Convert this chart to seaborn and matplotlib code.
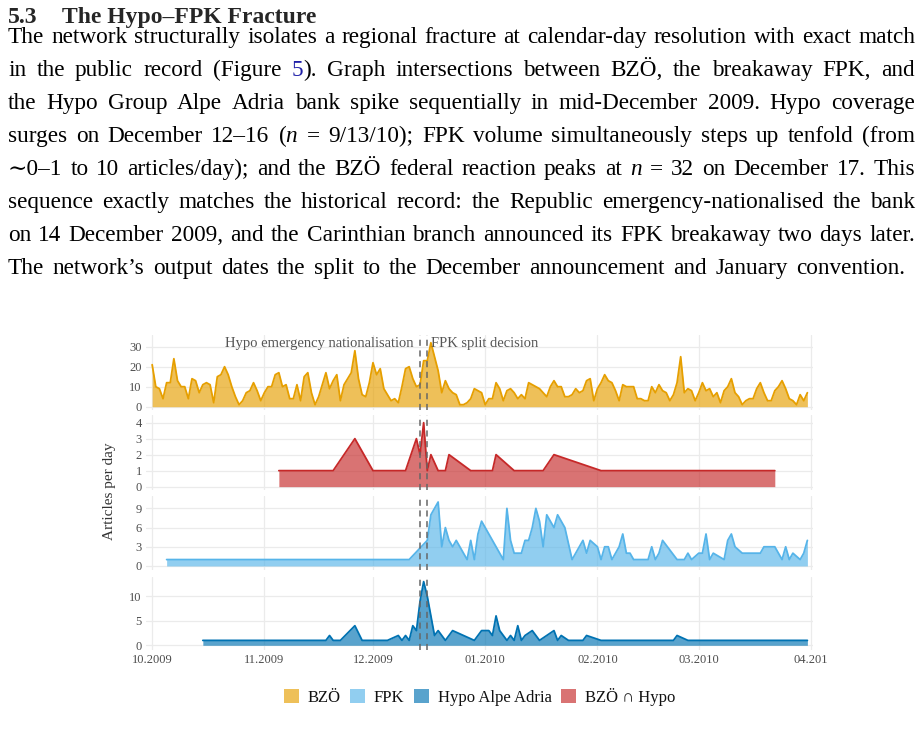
import re
import numpy as np
import pandas as pd
import matplotlib
matplotlib.use("Agg")
import matplotlib.pyplot as plt
from matplotlib.patches import Patch
import seaborn as sns

# ---------------- data ----------------
bzo_start = "2009-10-01"
bzo_values = [
    21, 10, 9, 4, 12, 12, 24, 13, 10, 10, 4, 14, 13, 7, 11, 12, 11, 2, 15, 16,
    20, 16, 10, 5, 1, 3, 7, 8, 12, 8, 3, 7, 10, 10, 16, 17, 10, 11, 4, 4,
    11, 3, 15, 17, 7, 1, 5, 11, 17, 9, 13, 16, 3, 11, 14, 17, 28, 14, 6, 5,
    12, 22, 16, 19, 9, 6, 3, 4, 2, 10, 19, 20, 14, 10, 11, 23, 23, 32, 25, 18,
    7, 13, 9, 7, 6, 1, 1, 2, 4, 9, 8, 7, 1, 4, 4, 12, 9, 3, 8, 9,
    7, 4, 6, 4, 12, 11, 10, 9, 7, 5, 10, 13, 10, 10, 5, 5, 6, 9, 7, 8,
    13, 14, 3, 9, 12, 16, 13, 12, 8, 3, 11, 10, 10, 10, 4, 4, 3, 3, 10, 7,
    11, 8, 7, 3, 6, 12, 25, 7, 9, 8, 3, 7, 12, 8, 9, 5, 7, 2, 8, 10,
    14, 7, 5, 1, 3, 4, 4, 9, 12, 7, 3, 3, 8, 10, 13, 9, 4, 3, 1, 6,
    3, 7,
]

inter_dates = ["2009-11-05", "2009-11-20", "2009-11-26", "2009-12-01", "2009-12-10",
               "2009-12-13", "2009-12-14", "2009-12-15", "2009-12-16", "2009-12-17",
               "2009-12-19", "2009-12-21", "2009-12-22", "2009-12-28", "2010-01-03",
               "2010-01-04", "2010-01-09", "2010-01-17", "2010-01-20", "2010-02-02",
               "2010-03-22"]
inter_values = [1, 1, 3, 1, 1, 3, 2, 4, 1, 2, 1, 1, 2, 1, 1, 2, 1, 1, 2, 1, 1]

fpk_dates = ["2009-10-05", "2009-12-11", "2009-12-16", "2009-12-17", "2009-12-19",
             "2009-12-20", "2009-12-21", "2009-12-22", "2009-12-23", "2009-12-24",
             "2009-12-27", "2009-12-28", "2009-12-29", "2009-12-30", "2009-12-31",
             "2010-01-06", "2010-01-07", "2010-01-08", "2010-01-09", "2010-01-11",
             "2010-01-12", "2010-01-13", "2010-01-14", "2010-01-15", "2010-01-16",
             "2010-01-17", "2010-01-18", "2010-01-19", "2010-01-20", "2010-01-21",
             "2010-01-23", "2010-01-25", "2010-01-28", "2010-01-29", "2010-01-30",
             "2010-02-01", "2010-02-02", "2010-02-03", "2010-02-04", "2010-02-05",
             "2010-02-07", "2010-02-08", "2010-02-09", "2010-02-10", "2010-02-11",
             "2010-02-15", "2010-02-16", "2010-02-17", "2010-02-18", "2010-02-19",
             "2010-02-23", "2010-02-25", "2010-02-26", "2010-02-27", "2010-03-01",
             "2010-03-02", "2010-03-03", "2010-03-04", "2010-03-05", "2010-03-08",
             "2010-03-09", "2010-03-10", "2010-03-11", "2010-03-13", "2010-03-18",
             "2010-03-19", "2010-03-22", "2010-03-24", "2010-03-25", "2010-03-26",
             "2010-03-27", "2010-03-29", "2010-03-30", "2010-03-31"]
fpk_values = [1, 1, 4, 8, 10, 3, 6, 4, 3, 4,
              1, 4, 1, 5, 7, 1, 9, 4, 2, 2,
              4, 4, 6, 9, 7, 3, 8, 7, 6, 8,
              6, 1, 4, 2, 4, 3, 1, 3, 3, 1,
              3, 5, 2, 2, 1, 1, 3, 1, 2, 4,
              1, 1, 2, 1, 2, 2, 5, 1, 2, 1,
              4, 5, 3, 2, 2, 3, 3, 1, 3, 1,
              2, 1, 2, 4]

hypo_dates = ["2009-10-15", "2009-11-18", "2009-11-19", "2009-11-20", "2009-11-22",
              "2009-11-26", "2009-11-28", "2009-12-05", "2009-12-08", "2009-12-09",
              "2009-12-10", "2009-12-11", "2009-12-12", "2009-12-13", "2009-12-14",
              "2009-12-15", "2009-12-16", "2009-12-18", "2009-12-19", "2009-12-21",
              "2009-12-23", "2009-12-29", "2009-12-31", "2010-01-02", "2010-01-03",
              "2010-01-04", "2010-01-05", "2010-01-07", "2010-01-08", "2010-01-09",
              "2010-01-10", "2010-01-11", "2010-01-12", "2010-01-14", "2010-01-16",
              "2010-01-20", "2010-01-21", "2010-01-22", "2010-01-24", "2010-01-28",
              "2010-01-29", "2010-02-02", "2010-02-22", "2010-02-23", "2010-02-26",
              "2010-03-31"]
hypo_values = [1, 1, 2, 1, 1, 4, 1, 1, 2, 1,
               2, 1, 4, 3, 9, 13, 10, 2, 3, 1,
               3, 1, 3, 3, 2, 6, 3, 1, 2, 1,
               4, 1, 2, 3, 1, 3, 1, 2, 1, 1,
               2, 1, 1, 2, 1, 1]

event_dates = ["2009-12-14", "2009-12-16"]
event_labels = ["Hypo emergency nationalisation", "FPK split decision"]

month_ticks = ["2009-10-01", "2009-11-01", "2009-12-01", "2010-01-01",
               "2010-02-01", "2010-03-01", "2010-04-01"]
month_labels = ["10.2009", "11.2009", "12.2009", "01.2010", "02.2010", "03.2010", "04.201"]

series_names = ["BZÖ", "FPK", "Hypo Alpe Adria", "BZÖ ∩ Hypo"]

heading_number = "5.3"
heading_title = "The Hypo–FPK Fracture"
paragraph_lines = [
    "The network structurally isolates a regional fracture at calendar-day resolution with exact match",
    "in the public record (Figure {5}). Graph intersections between BZÖ, the breakaway FPK, and",
    "the Hypo Group Alpe Adria bank spike sequentially in mid-December 2009. Hypo coverage",
    "surges on December 12–16 ($n$ = 9/13/10); FPK volume simultaneously steps up tenfold (from",
    "∼0–1 to 10 articles/day); and the BZÖ federal reaction peaks at $n$ = 32 on December 17. This",
    "sequence exactly matches the historical record: the Republic emergency-nationalised the bank",
    "on 14 December 2009, and the Carinthian branch announced its FPK breakaway two days later.",
    "The network’s output dates the split to the December announcement and January convention.",
]

# ---------------- style ----------------
sns.set_theme(style="white")
SERIF = ["Liberation Serif", "DejaVu Serif"]
plt.rcParams["font.family"] = SERIF
plt.rcParams["mathtext.fontset"] = "custom"
plt.rcParams["mathtext.rm"] = "Liberation Serif"
plt.rcParams["mathtext.it"] = "Liberation Serif:italic"

W, H = 923, 740
fig = plt.figure(figsize=(W / 100, H / 100), dpi=100)
renderer = fig.canvas.get_renderer()

C_BZO = "#E69F00"
C_FPK = "#56B4E9"
C_HYPO = "#0072B2"
C_INT = "#C62828"
ALPHA = 0.65
GRID = "#ebebeb"
TXT = "#4d4d4d"


def fx(px):
    return px / W


def fy(py):
    return 1 - py / H


def px_axes(top, bottom, left=146, right=813):
    return fig.add_axes([fx(left), fy(bottom), (right - left) / W, (bottom - top) / H])


x_left = pd.Timestamp("2009-10-01") - pd.Timedelta(days=1.7)
x_right = pd.Timestamp("2010-04-01") + pd.Timedelta(days=0.55)

bzo_df = pd.DataFrame({"date": pd.date_range(bzo_start, periods=len(bzo_values), freq="D"),
                       "n": bzo_values})
int_df = pd.DataFrame({"date": pd.to_datetime(inter_dates), "n": inter_values})
fpk_df = pd.DataFrame({"date": pd.to_datetime(fpk_dates), "n": fpk_values})
hypo_df = pd.DataFrame({"date": pd.to_datetime(hypo_dates), "n": hypo_values})

panels = [
    (bzo_df, C_BZO, (335, 410), (-1.65, 35.85), [0, 10, 20, 30]),
    (int_df, C_INT, (415, 490), (-0.21, 4.48), [0, 1, 2, 3, 4]),
    (fpk_df, C_FPK, (496, 570), (-0.63, 10.94), [0, 3, 6, 9]),
    (hypo_df, C_HYPO, (577, 650), (-0.96, 13.94), [0, 5, 10]),
]

axes = []
for i, (df, col, (top, bot), ylim, yt) in enumerate(panels):
    ax = px_axes(top, bot)
    ax.fill_between(df["date"], df["n"], 0, color=col, alpha=ALPHA, lw=0, zorder=2)
    sns.lineplot(data=df, x="date", y="n", ax=ax, color=col, lw=1.3, zorder=3)
    ax.set_xlim(x_left, x_right)
    ax.set_ylim(*ylim)
    ax.set_yticks(yt)
    ax.set_yticklabels([str(v) for v in yt], fontsize=9, color=TXT)
    ax.set_xticks(pd.to_datetime(month_ticks))
    if i == 3:
        ax.set_xticklabels(month_labels, fontsize=9, color=TXT)
    else:
        ax.set_xticklabels([])
    ax.tick_params(length=0, pad=3)
    ax.grid(True, color=GRID, lw=0.9, zorder=0)
    ax.set_axisbelow(True)
    for s in ax.spines.values():
        s.set_visible(False)
    ax.set_xlabel("")
    ax.set_ylabel("")
    ax.patch.set_alpha(0)
    for d in event_dates:
        ax.axvline(pd.Timestamp(d), color="#666666", lw=1.1, ls=(0, (4, 3)), zorder=4)
    axes.append(ax)

# event annotations in the top panel
axes[0].annotate(event_labels[0], xy=(pd.Timestamp(event_dates[0]), 31.85),
                 xytext=(-5, 0), textcoords="offset points",
                 ha="right", va="center", fontsize=10.5, color="#555555")
axes[0].annotate(event_labels[1], xy=(pd.Timestamp(event_dates[1]), 31.85),
                 xytext=(3, 0), textcoords="offset points",
                 ha="left", va="center", fontsize=10.5, color="#555555")

fig.text(fx(110), fy(491), "Articles per day", rotation=90, ha="center", va="center",
         fontsize=11, color="#333333")

# legend
handles = [Patch(facecolor=c, alpha=ALPHA, edgecolor="none") for c in [C_BZO, C_FPK, C_HYPO, C_INT]]
fig.legend(handles, series_names, loc="center", bbox_to_anchor=(fx(479.5), fy(697)), ncol=4,
           frameon=False, fontsize=12, handlelength=0.9, handleheight=0.9,
           handletextpad=0.5, columnspacing=0.6, labelcolor="#111111")


# ---------------- text block (justified) ----------------
def measure(s, size, weight="normal"):
    t = fig.text(0, 0, s, fontsize=size, fontweight=weight)
    w = t.get_window_extent(renderer).width
    t.remove()
    return w


def parse_word(word):
    segs = []
    for part in re.split(r"(\{[^}]*\})", word):
        if not part:
            continue
        if part.startswith("{"):
            segs.append((part[1:-1], "#1f1fa8"))
        else:
            segs.append((part, "black"))
    return segs


def draw_line(line, y_base, x0, x1, size):
    words = line.split(" ")
    items = []
    total = 0
    for w in words:
        segs = parse_word(w)
        objs = []
        wsum = 0
        for s, c in segs:
            t = fig.text(0, fy(y_base), s, fontsize=size, color=c, va="baseline", ha="left")
            ww = t.get_window_extent(renderer).width
            objs.append((t, ww))
            wsum += ww
        items.append((objs, wsum))
        total += wsum
    gap = (x1 - x0 - total) / (len(items) - 1)
    x = x0
    for objs, wsum in items:
        xx = x
        for t, ww in objs:
            t.set_x(fx(xx))
            xx += ww
        x += wsum + gap


# paragraph font scaled from the last line's width
base = 10.0
w_last = measure(paragraph_lines[-1].replace("’", "'"), base)
p_size = base * 897 / w_last * 0.965
h_size = 10.0 * 255 / measure(heading_title, 10.0, "bold")

fig.text(fx(8), fy(23), heading_number, fontsize=h_size, fontweight="bold", va="baseline")
fig.text(fx(62), fy(23), heading_title, fontsize=h_size, fontweight="bold", va="baseline")

for k, line in enumerate(paragraph_lines):
    last = k == len(paragraph_lines) - 1
    draw_line(line, 43 + 33 * k, 8, 905 if last else 915, p_size)

fig.savefig("out.png", dpi=100)
